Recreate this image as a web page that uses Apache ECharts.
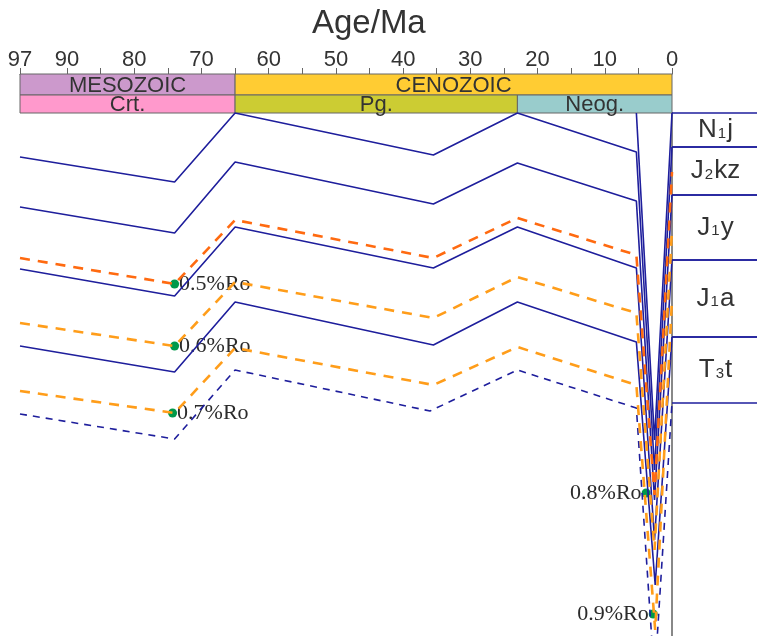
<!DOCTYPE html>
<html>
<head>
<meta charset="utf-8">
<script src="https://cdn.jsdelivr.net/npm/echarts@6/dist/echarts.min.js"></script>
<style>
  html, body { margin: 0; padding: 0; background: #fff; }
  #chart { width: 757px; height: 636px; }
</style>
</head>
<body>
<div id="chart"></div>
<script>
// age axis
const ageTicks = [97, 90, 85, 80, 75, 70, 65, 60, 55, 50, 45, 40, 35, 30, 25, 20, 15, 10, 5, 0]
const ageLabels = [97, 90, 80, 70, 60, 50, 40, 30, 20, 10, 0]

// time scale: [name, from Ma, to Ma]
const eras = [["MESOZOIC", 97, 65], ["CENOZOIC", 65, 0]]
const periods = [["Crt.", 97, 65], ["Pg.", 65, 23], ["Neog.", 23, 0]]

// present-day column: [symbol, subscript, suffix, top depth, base depth]
const formations = [
  ["N", "1", "j", 0, 340],
  ["J", "2", "kz", 340, 820],
  ["J", "1", "y", 820, 1470],
  ["J", "1", "a", 1470, 2240],
  ["T", "3", "t", 2240, 2900]
]

// burial curves, [age Ma, depth m]
const horizonTop = [[5.3, 0], [2.6, 3270], [0, 0]]
const horizon1 = [[97, 440], [74, 690], [65, 0], [35.5, 420], [23, 0], [5.3, 390], [2.6, 3570], [0, 340]]
const horizon2 = [[97, 940], [74, 1200], [65, 490], [35.5, 910], [23, 500], [5.3, 880], [2.6, 3870], [0, 820]]
const horizon3 = [[97, 1560], [74, 1830], [65, 1140], [35.5, 1550], [23, 1140], [5.3, 1550], [2.6, 4270], [0, 1470]]
const horizon4 = [[97, 2330], [74, 2590], [65, 1890], [35.5, 2320], [23, 1890], [5.3, 2290], [2.5, 4720], [0, 2240]]
const horizon5 = [[97, 3010], [74, 3260], [65, 2570], [36, 2980], [23, 2570], [5.3, 2950], [2.6, 5670], [0, 2900]]

// Ro isolines
const ro05 = [[97, 1450], [74, 1710], [65, 1070], [35.5, 1450], [23, 1050], [5.3, 1420], [2.6, 3820], [0, 590]]
const ro06 = [[97, 2100], [74, 2330], [65, 1690], [35.5, 2050], [23, 1640], [5.3, 2000], [2.6, 4370], [0, 1170]]
const ro07 = [[97, 2780], [74, 3000], [65, 2350], [35.5, 2720], [23, 2340], [5.3, 2720], [2.5, 5170], [0, 1870]]

// Ro points: [label, age, depth]
const roPoints = [
  ["0.5%Ro", 74, 1710],
  ["0.6%Ro", 74, 2330],
  ["0.7%Ro", 74.3, 3000],
  ["0.8%Ro", 3.85, 3800],
  ["0.9%Ro", 2.8, 5010]
]

const blue = "#1e1e9c"
const bandColors = {
  "MESOZOIC": "#cc99cc", "CENOZOIC": "#ffcc33",
  "Crt.": "#ff99cc", "Pg.": "#cccc33", "Neog.": "#99cccc"
}

const chart = echarts.init(document.getElementById("chart"))

function bandSeries(rows, rowTop, rowBottom) {
  return {
    type: "custom",
    xAxisIndex: 0,
    yAxisIndex: 0,
    silent: true,
    data: rows.map(r => ({ name: r[0], value: [r[1], r[2]] })),
    renderItem(params, api) {
      const name = rows[params.dataIndex][0]
      const p0 = api.coord([api.value(0), rowTop])
      const p1 = api.coord([api.value(1), rowBottom])
      return {
        type: "group",
        children: [
          {
            type: "rect",
            shape: { x: p0[0], y: p0[1], width: p1[0] - p0[0], height: p1[1] - p0[1] },
            style: { fill: bandColors[name], stroke: "#666", lineWidth: 1 }
          },
          {
            type: "text",
            style: {
              text: name, x: (p0[0] + p1[0]) / 2, y: (p0[1] + p1[1]) / 2 + 1,
              align: "center", verticalAlign: "middle",
              fontSize: 22, fontFamily: "Liberation Sans", fill: "#333"
            }
          }
        ]
      }
    }
  }
}

function curve(data, color, width, dash) {
  return {
    type: "line",
    xAxisIndex: 1,
    yAxisIndex: 1,
    data,
    symbol: "none",
    silent: true,
    lineStyle: { color, width, type: dash || "solid" }
  }
}

chart.setOption({
  animation: false,
  title: {
    text: "Age/Ma",
    left: 307,
    top: 2,
    textStyle: { fontSize: 33, fontWeight: "normal", color: "#333", fontFamily: "Liberation Sans" }
  },
  grid: [
    { left: 20, right: 85, top: 74, height: 39 },
    { left: 20, right: 85, top: 113, bottom: 0 },
    { left: 672, right: 0, top: 113, bottom: 0 }
  ],
  xAxis: [
    {
      gridIndex: 0, type: "value", min: 0, max: 97, inverse: true, position: "top",
      axisLine: { show: true, lineStyle: { color: "#666", width: 1 } },
      axisTick: { show: true, length: 6, customValues: ageTicks, lineStyle: { color: "#666" } },
      axisLabel: { customValues: ageLabels, fontSize: 22, color: "#333", fontFamily: "Liberation Sans", margin: 3 },
      splitLine: { show: false }
    },
    {
      gridIndex: 1, type: "value", min: 0, max: 97, inverse: true, show: false
    },
    {
      gridIndex: 2, type: "value", min: 0, max: 1, show: false
    }
  ],
  yAxis: [
    { gridIndex: 0, type: "value", min: 0, max: 39, inverse: true, show: false },
    {
      gridIndex: 1, type: "value", min: 0, max: 5230, inverse: true,
      axisLine: { show: true, lineStyle: { color: blue, width: 2 } },
      axisTick: { show: false }, axisLabel: { show: false }, splitLine: { show: false }
    },
    { gridIndex: 2, type: "value", min: 0, max: 5230, inverse: true, show: false },
    {
      gridIndex: 1, type: "value", min: 0, max: 5230, inverse: true, position: "right",
      axisLine: { show: true, lineStyle: { color: "#888", width: 2 } },
      axisTick: { show: false }, axisLabel: { show: false }, splitLine: { show: false }
    }
  ],
  series: [
    bandSeries(eras, 0, 21),
    bandSeries(periods, 21, 39),
    curve(horizonTop, blue, 1.6),
    curve(horizon1, blue, 1.6),
    curve(horizon2, blue, 1.6),
    curve(horizon3, blue, 1.6),
    curve(horizon4, blue, 1.6),
    curve(horizon5, blue, 1.6, [7, 6]),
    curve(ro05, "#ff6a10", 2.6, [10, 8]),
    curve(ro06, "#ff9d1a", 2.6, [10, 8]),
    curve(ro07, "#ff9d1a", 2.6, [10, 8]),
    {
      type: "scatter",
      xAxisIndex: 1,
      yAxisIndex: 1,
      silent: true,
      symbolSize: 9,
      itemStyle: { color: "#00994a", opacity: 1 },
      data: roPoints.map((p, i) => ({
        name: p[0],
        value: [p[1], p[2]],
        label: { position: i < 3 ? "right" : "left" }
      })),
      label: {
        show: true, formatter: "{b}", distance: 0,
        fontSize: 22, fontFamily: "Liberation Serif", color: "#2b2b2b"
      }
    },
    {
      type: "custom",
      xAxisIndex: 2,
      yAxisIndex: 2,
      silent: true,
      data: formations.map(f => [f[3], f[4]]),
      renderItem(params, api) {
        const f = formations[params.dataIndex]
        const a = api.coord([0, api.value(0)])
        const b = api.coord([1, api.value(1)])
        return {
          type: "group",
          children: [
            { type: "line", shape: { x1: a[0], y1: a[1], x2: b[0], y2: a[1] }, style: { stroke: blue, lineWidth: 1.3 } },
            { type: "line", shape: { x1: a[0], y1: b[1], x2: b[0], y2: b[1] }, style: { stroke: blue, lineWidth: 1.3 } },
            {
              type: "text",
              style: {
                text: "{m|" + f[0] + "}{s|" + f[1] + "}{m|" + f[2] + "}",
                x: (a[0] + b[0]) / 2 + 1, y: (a[1] + b[1]) / 2,
                align: "center", verticalAlign: "middle",
                rich: {
                  m: { fontSize: 26, fontFamily: "Liberation Sans", fill: "#333", lineHeight: 28 },
                  s: { fontSize: 15, fontFamily: "Liberation Sans", fill: "#333", lineHeight: 28, padding: [7, 1, 0, 1] }
                }
              }
            }
          ]
        }
      }
    }
  ]
})
</script>
</body>
</html>
